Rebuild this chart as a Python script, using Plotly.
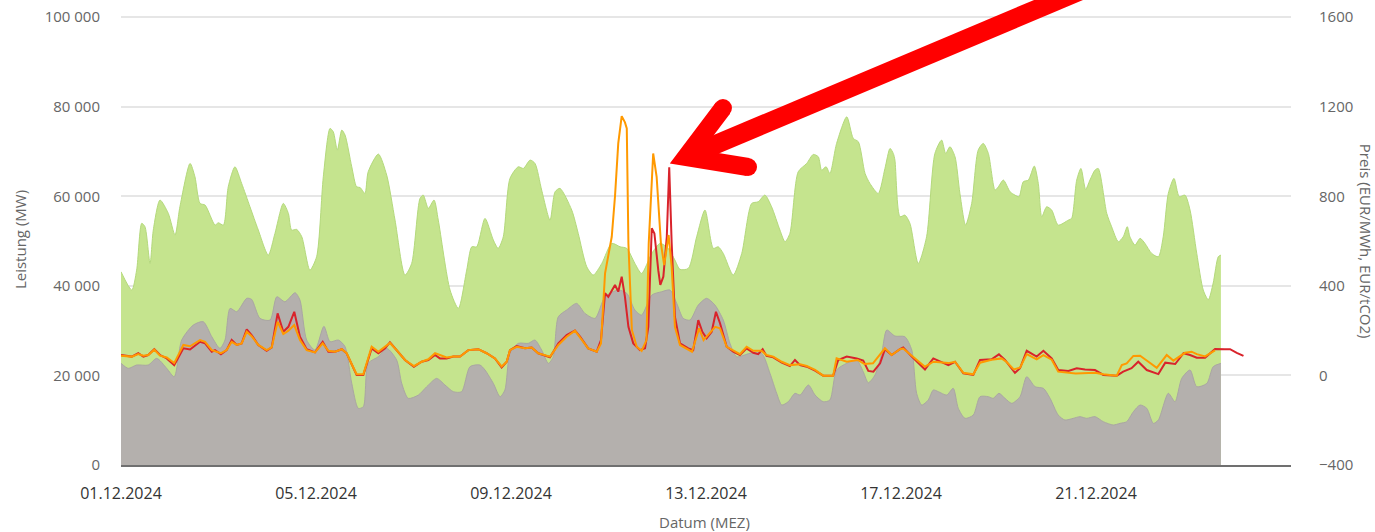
import pandas as pd
import plotly.graph_objects as go

START = pd.Timestamp("2024-12-01 00:00")

# ---- data (hours since 01.12.2024 00:00) ----
green_hours = [0, 5.3, 7.7, 10.2, 11.8, 14.3, 15.9, 19.2, 23.3, 26.6, 29.0, 34.0, 36.4, 38.9, 41.4, 46.3, 47.9,
               50.4, 52.8, 56.1, 59.4, 63.5, 67.6, 72.5, 75.8, 79.9, 82.4, 84.0, 86.5, 89.0, 93.0, 96.3, 99.6,
               102.9, 104.5, 106.5, 108.7, 110.3, 113.6, 116.0, 117.7, 120.1, 121.7, 126.7, 130.8, 134.9, 139.8,
               143.1, 147.2, 148.8, 151.3, 154.1, 156.2, 162.0, 166.1, 170.2, 172.7, 175.1, 179.2, 183.3, 185.7,
               188.2, 191.5, 195.6, 198.1, 201.4, 203.8, 207.1, 211.2, 213.7, 216.1, 221.9, 225.1, 229.3, 232.5,
               236.7, 241.6, 245.7, 249.0, 253.0, 256.3, 261.3, 265.4, 269.4, 272.7, 275.2, 279.3, 283.4, 287.5,
               291.6, 294.0, 296.5, 301.4, 305.6, 310.5, 313.7, 317.0, 320.3, 324.4, 326.9, 329.3, 333.4, 337.6,
               340.8, 343.3, 344.9, 347.1, 349.0, 352.3, 357.3, 360.5, 363.0, 366.3, 368.7, 372.8, 376.1, 378.6,
               380.2, 381.0, 383.5, 385.9, 388.4, 392.5, 396.6, 400.7, 404.0, 406.0, 408.1, 410.6, 413.0, 415.8,
               418.8, 422.0, 424.5, 427.0, 430.3, 431.9, 434.4, 437.7, 440.1, 442.1, 444.2, 446.7, 449.6, 451.6,
               453.3, 455.7, 458.2, 461.4, 466.4, 468.0, 470.5, 472.6, 474.9, 477.0, 479.5, 481.1, 485.3, 487.7,
               491.0, 493.4, 495.4, 496.7, 499.2, 501.7, 504.1, 507.4, 510.7, 513.1, 515.6, 518.4, 521.0, 523.8,
               526.3, 529.6, 532.8, 535.3, 537.7, 540.2, 541.5]
green_mw = [43150, 39060, 43500, 53950, 53200, 45000, 52450, 59150, 56170, 51340, 57650, 67340, 64350, 58400, 58030,
            53570, 54080, 53570, 62110, 66580, 62860, 57650, 52450, 46870, 51710, 58400, 56170, 52450, 52600, 50960,
            43520, 46500, 64350, 75150, 74400, 70300, 74770, 73660, 66580, 62110, 61960, 60640, 65470, 69420, 64730,
            54680, 42410, 45000, 59520, 60260, 57300, 59150, 54680, 39060, 34970, 43520, 48720, 48720, 55060, 50220,
            48370, 50960, 63990, 66580, 66210, 68080, 67340, 61380, 54680, 61000, 61760, 56920, 51710, 44260, 42410,
            45000, 49480, 48720, 48370, 45000, 42780, 47240, 49480, 48370, 45750, 43680, 43900, 50960, 56920, 48370,
            48720, 47240, 42410, 47240, 58400, 58770, 60260, 57650, 52450, 49850, 51710, 65470, 67340, 69340, 68810,
            65840, 66580, 65100, 71800, 77740, 72920, 72170, 65100, 62860, 60640, 66210, 70680, 69570, 68080, 55430,
            55800, 53950, 45000, 50960, 69570, 72540, 69570, 71060, 68810, 60640, 53570, 58400, 70300, 71800, 69570,
            61380, 62110, 63610, 61000, 60260, 59890, 63240, 63610, 66740, 62860, 55430, 57650, 56920, 53570, 54680,
            55060, 63610, 66210, 61530, 63610, 65840, 66210, 56170, 53200, 49850, 50960, 53200, 50960, 49110, 50600,
            49480, 47240, 46500, 50960, 60640, 63990, 59890, 60260, 56920, 47240, 39060, 36910, 40630, 46500, 46870]

grey_hours = [0, 3.6, 7.7, 13.4, 17.6, 22.5, 26.2, 29.9, 35.6, 40.5, 44.7, 48.7, 51.2, 53.7, 57.0, 61.9, 64.3, 68.4,
              73.4, 76.7, 80.7, 85.7, 88.1, 91.4, 95.5, 99.9, 102.9, 107.0, 110.3, 113.6, 116.8, 119.3, 121.7, 126.7,
              130.8, 135.7, 138.2, 141.4, 146.4, 150.5, 155.4, 159.5, 163.6, 167.7, 171.8, 176.7, 179.2, 183.3, 186.6,
              189.0, 191.5, 195.6, 200.5, 203.8, 207.1, 210.4, 212.8, 215.3, 219.4, 224.3, 228.4, 233.4, 238.3, 244.8,
              249.0, 253.0, 256.3, 261.3, 266.2, 270.3, 273.6, 276.8, 280.1, 284.2, 288.3, 292.4, 296.5, 299.8, 303.1,
              309.7, 315.4, 319.5, 322.8, 325.3, 328.5, 331.8, 334.3, 338.4, 341.7, 345.7, 349.0, 352.3, 357.3, 362.2,
              365.4, 367.9, 371.2, 374.5, 377.0, 381.0, 385.9, 389.3, 391.7, 394.2, 397.4, 399.9, 402.4, 406.5, 409.7,
              412.2, 415.5, 419.6, 422.9, 427.0, 429.4, 432.2, 435.2, 438.5, 442.6, 445.9, 450.0, 454.1, 457.4, 461.4,
              464.7, 468.8, 472.1, 475.4, 479.5, 483.6, 488.5, 491.8, 495.1, 498.4, 501.7, 505.0, 508.2, 510.7, 515.6,
              518.9, 522.2, 526.3, 529.6, 534.6, 537.7, 541.5]
grey_mw = [22700, 21580, 22320, 22320, 23810, 21580, 19710, 27900, 31250, 31990, 28640, 26050, 27900, 34970, 34220,
           37210, 36980, 32740, 32360, 37560, 36450, 38460, 36830, 27900, 25670, 30960, 27530, 27900, 26420, 18230,
           12650, 13020, 22700, 24180, 26050, 23440, 18230, 14880, 15620, 17480, 19340, 17860, 16370, 16370, 21950,
           22320, 21210, 18230, 15250, 16740, 24930, 27160, 27160, 27900, 25670, 22700, 24180, 33100, 34600, 36080,
           33850, 32740, 37560, 39060, 38320, 34600, 33480, 37940, 38690, 39060, 36080, 32740, 32360, 35710, 37210,
           35710, 32360, 27160, 24180, 24930, 24930, 20460, 16000, 13390, 14130, 16000, 15620, 17860, 15620, 14130,
           14510, 21210, 22700, 23440, 20830, 18370, 20090, 24930, 30130, 28790, 28640, 25670, 16000, 13390, 14510,
           16740, 16370, 15620, 17110, 12650, 10420, 11160, 15250, 15250, 14880, 16000, 14880, 13770, 15250, 19710,
           17480, 17110, 14880, 11160, 10040, 10420, 10790, 10420, 10790, 9670, 8930, 9300, 9670, 11900, 13390,
           12650, 9300, 10040, 16000, 14130, 19340, 21210, 17480, 18230, 21950, 22700]

red_hours = [0, 5.3, 8.5, 11.0, 13.4, 16.4, 19.2, 22.5, 26.2, 30.7, 34.0, 38.9, 41.4, 44.7, 46.3, 49.2, 52.0, 54.5,
             57.0, 59.4, 61.9, 64.3, 67.6, 71.7, 74.2, 77.1, 79.9, 82.4, 85.3, 88.1, 91.4, 95.5, 99.3, 102.1, 105.4,
             108.7, 111.1, 113.6, 116.0, 119.3, 121.3, 123.4, 126.7, 130.0, 132.4, 135.7, 139.8, 144.2, 148.0, 151.3,
             154.6, 157.0, 160.3, 163.6, 166.9, 171.0, 175.9, 180.0, 184.1, 187.4, 189.9, 191.5, 194.8, 198.9, 202.2,
             205.4, 211.2, 215.3, 219.4, 223.5, 226.0, 230.0, 234.2, 236.3, 238.3, 239.9, 241.6, 243.2, 244.8, 246.5,
             248.1, 249.8, 252.2, 255.5, 258.0, 259.6, 261.3, 262.6, 264.5, 265.5, 267.0, 268.7, 269.9, 271.1, 272.7,
             275.2, 279.3, 281.7, 284.2, 286.2, 288.3, 290.8, 292.9, 294.9, 298.2, 301.4, 304.7, 308.0, 311.3, 313.7,
             315.9, 317.8, 321.1, 325.3, 329.3, 331.8, 334.3, 337.6, 341.7, 345.7, 350.6, 353.1, 357.3, 362.2, 365.4,
             367.9, 370.4, 373.7, 376.1, 379.4, 383.5, 385.1, 389.3, 395.8, 399.9, 403.2, 407.3, 410.6, 414.7, 419.6,
             422.9, 428.6, 432.2, 435.2, 440.1, 442.6, 445.9, 450.8, 454.1, 458.2, 461.4, 466.4, 470.5, 474.6, 479.5,
             483.6, 490.2, 493.4, 497.5, 500.8, 505.0, 510.7, 514.1, 519.0, 523.1, 526.3, 529.6, 533.7, 538.6, 543.5,
             546.0, 549.3, 552.6]
red_price = [91, 84, 99, 84, 91, 117, 91, 76, 46, 121, 116, 150, 143, 106, 113, 94, 113, 158, 136, 143, 206, 180, 136,
             110, 125, 277, 195, 217, 284, 173, 117, 103, 150, 106, 106, 117, 99, 46, 2, 2, 61, 121, 99, 121, 148, 113,
             69, 39, 61, 69, 91, 76, 76, 84, 84, 113, 117, 99, 76, 36, 61, 113, 131, 121, 125, 99, 81, 143, 180, 200,
             173, 121, 106, 158, 367, 351, 381, 404, 374, 441, 351, 217, 143, 113, 121, 217, 657, 634, 470, 404, 441,
             619, 930, 590, 262, 143, 121, 113, 247, 195, 166, 195, 284, 233, 128, 106, 91, 121, 101, 95, 117, 87, 81,
             57, 42, 69, 46, 39, 21, -1, -1, 69, 84, 76, 66, 20, 17, 54, 117, 91, 117, 125, 84, 27, 76, 61, 46, 61, 9,
             2, 69, 72, 94, 69, 12, 32, 110, 84, 110, 76, 24, 20, 32, 27, 24, 2, -1, 17, 32, 61, 24, 6, 57, 51, 99, 91,
             79, 79, 118, 117, 117, 101, 87]

orange_hours = [0, 5.3, 8.5, 11.0, 13.4, 16.4, 19.2, 22.5, 26.2, 30.7, 34.0, 38.9, 41.4, 44.7, 49.2, 52.0, 54.5, 57.0,
                59.4, 61.9, 64.3, 67.6, 71.7, 74.2, 77.1, 79.9, 82.4, 85.3, 88.1, 91.4, 95.5, 99.3, 102.1, 105.4,
                108.7, 111.1, 113.6, 116.0, 119.3, 121.3, 123.4, 126.7, 130.0, 132.4, 135.7, 139.8, 144.2, 148.0,
                151.3, 154.6, 157.0, 160.3, 163.6, 166.9, 171.0, 175.9, 180.0, 184.1, 187.4, 189.9, 191.5, 194.8,
                198.9, 202.2, 205.4, 211.2, 215.3, 219.4, 223.5, 226.0, 230.0, 234.2, 236.3, 238.3, 241.6, 243.2,
                244.8, 246.5, 248.1, 249.0, 249.8, 251.5, 253.9, 256.3, 258.7, 259.8, 262.0, 263.7, 265.8, 267.4,
                269.6, 271.1, 272.7, 275.2, 281.1, 284.6, 286.8, 288.3, 292.5, 294.9, 298.2, 304.7, 308.0, 311.3,
                315.4, 317.8, 321.1, 325.3, 329.3, 334.3, 337.6, 341.7, 345.7, 350.6, 352.3, 357.3, 362.7, 366.0,
                370.2, 376.1, 379.4, 383.5, 385.1, 389.3, 395.8, 399.9, 407.3, 410.6, 414.7, 419.6, 422.9, 428.6,
                433.5, 436.0, 439.5, 442.6, 445.9, 450.8, 454.1, 458.2, 461.4, 470.0, 479.5, 483.6, 490.2, 492.7,
                495.1, 498.4, 501.7, 505.8, 509.9, 514.8, 518.1, 523.8, 527.1, 529.6, 533.7, 538.6]
orange_price = [88, 84, 95, 88, 91, 115, 88, 80, 55, 136, 130, 158, 150, 113, 99, 113, 150, 136, 143, 195, 175, 136,
                113, 125, 240, 185, 200, 225, 158, 113, 103, 143, 110, 106, 117, 99, 50, 5, 5, 70, 128, 106, 128, 145,
                113, 69, 42, 61, 72, 99, 91, 80, 84, 84, 113, 117, 99, 76, 40, 61, 113, 128, 121, 125, 99, 84, 136,
                173, 200, 170, 121, 106, 143, 456, 619, 800, 1036, 1158, 1130, 1103, 590, 203, 128, 110, 158, 590, 991,
                887, 590, 493, 627, 485, 217, 136, 106, 210, 158, 173, 217, 210, 128, 95, 128, 110, 110, 91, 84, 61,
                46, 50, 42, 25, -1, -1, 76, 61, 69, 51, 54, 121, 91, 117, 120, 88, 39, 61, 55, 61, 12, 5, 57, 70, 76,
                60, 27, 35, 95, 72, 91, 70, 17, 9, 12, 5, -1, 46, 54, 87, 88, 61, 34, 91, 66, 101, 106, 95, 85, 112]

x_tick_days = ["2024-12-01", "2024-12-05", "2024-12-09", "2024-12-13", "2024-12-17", "2024-12-21"]
x_range = ["2024-12-01", "2024-12-25"]
mw_ticks = [0, 20000, 40000, 60000, 80000, 100000]
price_ticks = [-400, 0, 400, 800, 1200, 1600]
mw_range = [0, 100250]        # a hair above the top tick so its grid line is visible
price_range = [-400, 1605]    # same proportion as the MW axis -> grids coincide


def to_time(hours):
    return START + pd.to_timedelta(hours, unit="h")


FONT = "Open Sans, Roboto, DejaVu Sans, sans-serif"

fig = go.Figure()
fig.add_trace(go.Scatter(x=to_time(green_hours), y=green_mw, mode="lines", fill="tozeroy",
                         line=dict(color="#b4d97c", width=1, shape="spline", smoothing=0.7),
                         fillcolor="#c5e48e", hoverinfo="skip", showlegend=False))
fig.add_trace(go.Scatter(x=to_time(grey_hours), y=grey_mw, mode="lines", fill="tozeroy",
                         line=dict(color="#aaa6a3", width=1, shape="spline", smoothing=0.7),
                         fillcolor="#b4b0ad", hoverinfo="skip", showlegend=False))
fig.add_trace(go.Scatter(x=to_time(red_hours), y=red_price, mode="lines", yaxis="y2",
                         line=dict(color="#d9232b", width=2), hoverinfo="skip", showlegend=False))
fig.add_trace(go.Scatter(x=to_time(orange_hours), y=orange_price, mode="lines", yaxis="y2",
                         line=dict(color="#ff9900", width=2), hoverinfo="skip", showlegend=False))

# big red arrow (annotation drawn in paper coordinates)
ARROW = "#ff0000"
vx, vy = 0.4829, 0.6860
a1x, a1y = 0.5145, 0.7951
a2x, a2y = 0.5359, 0.6637
sx, sy = 0.8419, 1.0802
shapes = [
    dict(type="path", xref="paper", yref="paper",
         path=f"M {vx} {vy} L {sx} {sy}", line=dict(color=ARROW, width=19)),
    dict(type="path", xref="paper", yref="paper",
         path=f"M {a1x} {a1y} L {vx} {vy} L {a2x} {a2y}", line=dict(color=ARROW, width=18)),
]
rx, ry = 9 / 1170, 9 / 449
for cx, cy in [(a1x, a1y), (a2x, a2y)]:
    shapes.append(dict(type="circle", xref="paper", yref="paper", x0=cx - rx, x1=cx + rx,
                       y0=cy - ry, y1=cy + ry, fillcolor=ARROW, line=dict(width=0)))

fig.update_layout(
    width=1375, height=532, autosize=False,
    margin=dict(l=121, r=84, t=16, b=67, autoexpand=False),
    paper_bgcolor="white", plot_bgcolor="white",
    separators=", ",
    font=dict(family=FONT, size=14, color="#666666"),
    shapes=shapes,
    xaxis=dict(type="date", range=x_range, tickvals=x_tick_days, tickformat="%d.%m.%Y", automargin=False,
               tickfont=dict(size=16, color="#333333"), showgrid=False, zeroline=False,
               showline=True, linecolor="#707070", linewidth=2, ticks="", ticklabelstandoff=13),
    yaxis=dict(range=mw_range, tickvals=mw_ticks, tickformat=",d", showgrid=True, automargin=False,
               gridcolor="#e6e6e6", gridwidth=2, zeroline=False, showline=False, ticks="",
               ticklabeloverflow="allow",
               tickfont=dict(size=15, color="#666666"), ticklabelstandoff=20),
    yaxis2=dict(range=price_range, tickvals=price_ticks, tickformat="d", overlaying="y", side="right",
                showgrid=False, zeroline=False, showline=False, ticks="", automargin=False,
                ticklabeloverflow="allow",
                tickfont=dict(size=15, color="#666666"), ticklabelstandoff=27),
    annotations=[
        dict(text="Leistung (MW)", xref="paper", yref="paper", x=-0.0863, y=0.501, textangle=-90,
             xanchor="center", yanchor="middle",
             showarrow=False, font=dict(size=15, color="#666666")),
        dict(text="Preis (EUR/MWh, EUR/tCO2)", xref="paper", yref="paper", x=1.0641, y=0.497,
             xanchor="center", yanchor="middle",
             textangle=90, showarrow=False, font=dict(size=15, color="#666666")),
        dict(text="Datum (MEZ)", xref="paper", yref="paper", x=0.4991, y=-0.127, yanchor="middle",
             xanchor="center", showarrow=False, font=dict(size=15, color="#666666")),
    ],
)

# the page's default 8px body margin would push the fixed-size figure out of the window
fig.write_html("out.html", config={"displayModeBar": False},
               post_script="document.body.style.margin='0';document.body.style.overflow='hidden';")
